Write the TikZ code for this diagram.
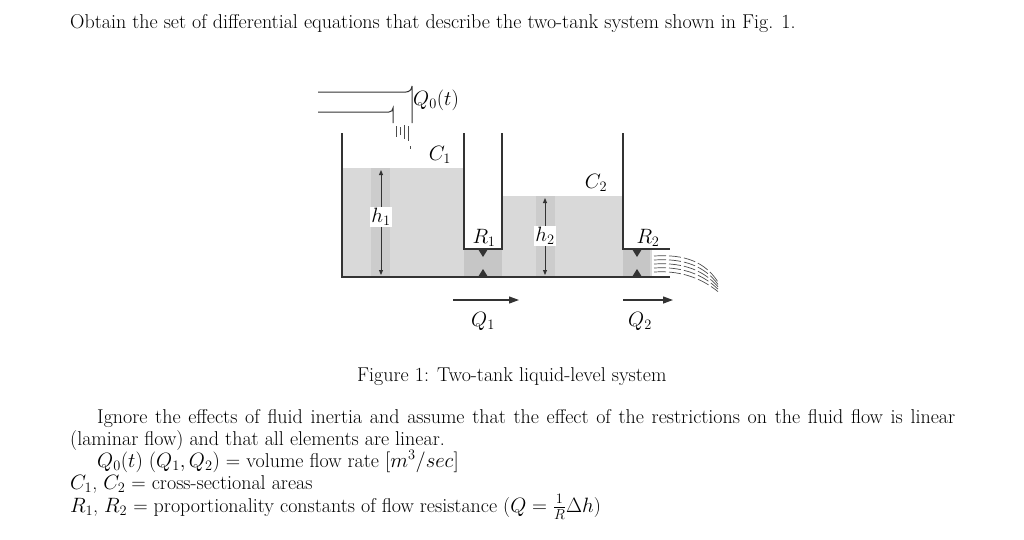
\documentclass[tikz,border=0pt]{standalone}
\usetikzlibrary{arrows.meta}
\tikzset{
  wall/.style={line width=1.3pt, black!80},
  water/.style={fill=gray!30, draw=none},
  lbl/.style={font=\fontsize{21}{24}\selectfont, inner sep=1pt},
  body/.style={font=\fontsize{20}{24}\selectfont, anchor=base west, inner sep=0pt},
  flow/.style={-{Triangle[length=10pt,width=7pt]}, line width=1.2pt, black!80},
  dim/.style={{Triangle[length=5pt,width=4pt]}-{Triangle[length=5pt,width=4pt]}, line width=0.9pt, black!80},
  tri/.style={fill=black!80, draw=none}
}
\begin{document}
\begin{tikzpicture}[x=1pt,y=-1pt]
\useasboundingbox (0,0) rectangle (1024,539);
% water
\fill[water] (342,168) rectangle (464,277);
\fill[water] (464,249) rectangle (502,277);
\fill[water] (502,196) rectangle (623,277);
\fill[water] (623,249) rectangle (652,277);
\fill[gray!45] (464,249) rectangle (502,277);
\fill[gray!45] (623,249) rectangle (650,277);
\fill[gray!40] (371,168) rectangle (390,277);
\fill[gray!40] (536,196) rectangle (555,277);
% walls
\draw[wall] (342,133) -- (342,277) -- (670,277);
\draw[wall] (464,133) -- (464,249) -- (502,249) -- (502,133);
\draw[wall] (623,133) -- (623,249) -- (670,249);
% pipe
\draw[wall, line width=1pt] (318,92) -- (406,92) arc[start angle=90,end angle=0,radius=6] -- (412,123);
\draw[wall, line width=1pt] (318,112) -- (389,112) arc[start angle=90,end angle=0,radius=4] -- (393,123);
\foreach \x/\a/\b in {396/126/137,400/127/135,404/125/139,408/126/141,410/146/149}
  \draw[black!70, line width=0.7pt] (\x,\a) -- (\x,\b);
% restriction triangles
\fill[tri] (478,249) -- (488,249) -- (483,257) -- cycle;
\fill[tri] (478,277) -- (488,277) -- (483,269) -- cycle;
\fill[tri] (632,249) -- (642,249) -- (637,257) -- cycle;
\fill[tri] (632,277) -- (642,277) -- (637,269) -- cycle;
% jet
\foreach \d in {0,4,8,12,16}
  \draw[black!70, line width=0.7pt, dash pattern=on 12pt off 3pt] (654,256+\d) .. controls (685,254+\d) and (705,262+1.2*\d) .. (718,282+0.6*\d);
% labels
\node[lbl, anchor=west] (q0) at (412,100) {$Q_0(t)$};
\node[lbl] (c1) at (440,155) {$C_1$};
\node[lbl] (c2) at (596,183) {$C_2$};
\node[lbl] (r1) at (484,238) {$R_1$};
\node[lbl] (r2) at (648,238) {$R_2$};
\coordinate (h1t) at (381,170); \coordinate (h1b) at (381,275);
\coordinate (h2t) at (545,198); \coordinate (h2b) at (545,275);
\draw[dim] (h1t) -- (h1b);
\draw[dim] (h2t) -- (h2b);
\node[lbl, fill=white] (h1) at (381,217) {$h_1$};
\node[lbl, fill=white] (h2) at (545,236) {$h_2$};
\coordinate (a1) at (453,300); \coordinate (b1) at (519,300);
\coordinate (a2) at (623,300); \coordinate (b2) at (673,300);
\draw[flow] (a1) -- (b1);
\draw[flow] (a2) -- (b2);
\node[lbl] (q1) at (483,321) {$Q_1$};
\node[lbl] (q2) at (640,321) {$Q_2$};
% text
\node[body] (t0) at (70,28) {Obtain the set of differential equations that describe the two-tank system shown in Fig. 1.};
\node[body] (cap) at (357,381) {Figure 1: Two-tank liquid-level system};
\node[body] (p1) at (97,423) {\makebox[858pt][s]{Ignore the effects of fluid inertia and assume that the effect of the restrictions on the fluid flow is linear}};
\node[body] (p2) at (70,445) {(laminar flow) and that all elements are linear.};
\node[body] (p3) at (97,467) {$Q_0(t)$ $(Q_1,Q_2)$ = volume flow rate $[m^3/sec]$};
\node[body] (p4) at (70,489) {$C_1$, $C_2$ = cross-sectional areas};
\node[body] (p5) at (70,512) {$R_1$, $R_2$ = proportionality constants of flow resistance ($Q=\frac{1}{R}\Delta h$)};
\end{tikzpicture}
\end{document}
